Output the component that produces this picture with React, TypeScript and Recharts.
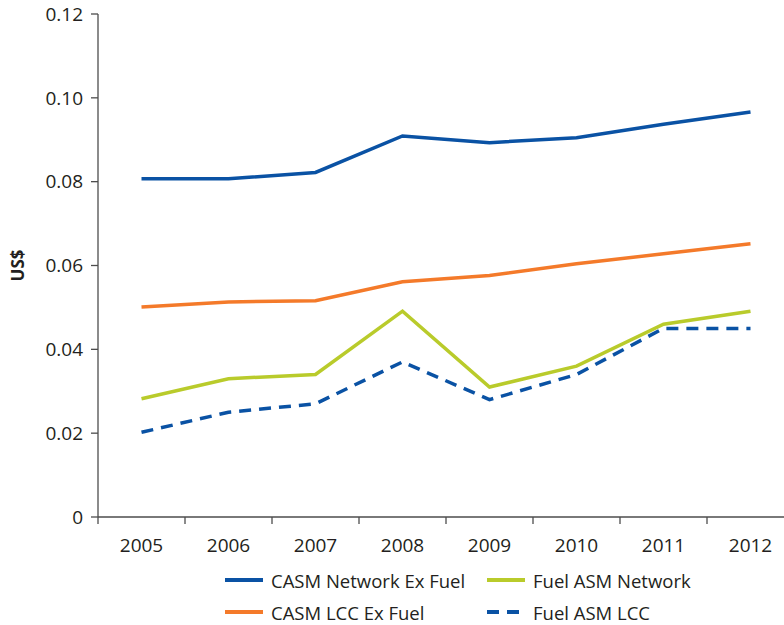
import { LineChart, Line, XAxis, YAxis, Legend, Label } from "recharts";

const years = ["2005", "2006", "2007", "2008", "2009", "2010", "2011", "2012"];
const casmNetwork = [0.0807, 0.0807, 0.0822, 0.0909, 0.0893, 0.0905, 0.0937, 0.0966];
const casmLcc = [0.0501, 0.0513, 0.0516, 0.0561, 0.0576, 0.0604, 0.0628, 0.0652];
const fuelNetwork = [0.0282, 0.033, 0.034, 0.0491, 0.031, 0.036, 0.046, 0.0491];
const fuelLcc = [0.0202, 0.025, 0.027, 0.037, 0.028, 0.034, 0.045, 0.045];
const yTicks = [0, 0.02, 0.04, 0.06, 0.08, 0.1, 0.12];

const BLUE = "#0a52a4";
const ORANGE = "#f47a2a";
const GREEN = "#b9cb2b";
const TEXT = "#231f20";
const AXIS = "#4d4d4d";
const FONT = "'Open Sans', sans-serif";

const CHART_W = 800;
const CHART_H = 625;
const Y_AXIS_W = 98;
const MARGIN = { top: 14, right: 6, left: 0, bottom: 8 };
const HALF_BAND = (CHART_W - Y_AXIS_W - MARGIN.left - MARGIN.right) / years.length / 2;

const data = years.map((year, i) => ({
  year,
  casmNetwork: casmNetwork[i],
  casmLcc: casmLcc[i],
  fuelNetwork: fuelNetwork[i],
  fuelLcc: fuelLcc[i],
}));

const legendItems = [
  { name: "CASM Network Ex Fuel", color: BLUE, dash: undefined },
  { name: "Fuel ASM Network", color: GREEN, dash: undefined },
  { name: "CASM LCC Ex Fuel", color: ORANGE, dash: undefined },
  { name: "Fuel ASM LCC", color: BLUE, dash: "12 8" },
];

function XTick(props: any) {
  const { x, y, payload, index } = props;
  return (
    <g>
      {index === 0 && <line x1={x - HALF_BAND} x2={x - HALF_BAND} y1={y - 8} y2={y - 1} stroke={AXIS} strokeWidth={1.3} />}
      <line x1={x + HALF_BAND} x2={x + HALF_BAND} y1={y - 8} y2={y - 1} stroke={AXIS} strokeWidth={1.3} />
      <text x={x} y={y + 27} textAnchor="middle" fill={TEXT} fontSize={19} fontFamily={FONT}>
        {payload.value}
      </text>
    </g>
  );
}

function formatY(v: number) {
  return v === 0 ? "0" : v.toFixed(2);
}

function renderLegend() {
  return (
    <div
      style={{
        display: "grid",
        gridTemplateColumns: "262px 230px",
        rowGap: 4,
        fontFamily: FONT,
        fontSize: 18.5,
        color: TEXT,
      }}
    >
      {legendItems.map((item) => (
        <div key={item.name} style={{ display: "flex", alignItems: "center", height: 28 }}>
          <svg width={38} height={6} style={{ marginRight: 8 }}>
            <line x1={0} x2={38} y1={3} y2={3} stroke={item.color} strokeWidth={4} strokeDasharray={item.dash} />
          </svg>
          <span>{item.name}</span>
        </div>
      ))}
    </div>
  );
}

export default function App() {
  return (
    <div style={{ position: "absolute", left: 0, top: 0, width: CHART_W, height: CHART_H, background: "#fff" }}>
      <LineChart width={CHART_W} height={CHART_H} data={data} margin={MARGIN}>
        <XAxis
          dataKey="year"
          tick={<XTick />}
          tickLine={false}
          axisLine={{ stroke: AXIS, strokeWidth: 1.3 }}
          interval={0}
          height={40}
          padding={{ left: HALF_BAND, right: HALF_BAND }}
        />
        <YAxis
          domain={[0, 0.12]}
          ticks={yTicks}
          tickFormatter={formatY}
          width={Y_AXIS_W}
          tickSize={7}
          tickMargin={8}
          tick={{ fill: TEXT, fontSize: 19, fontFamily: FONT }}
          tickLine={{ stroke: AXIS, strokeWidth: 1.3 }}
          axisLine={{ stroke: AXIS, strokeWidth: 1.3 }}
        >
          <Label
            value="US$"
            angle={-90}
            position="insideLeft"
            offset={18}
            style={{ fill: TEXT, fontSize: 17, fontWeight: 700, fontFamily: FONT, textAnchor: "middle" }}
          />
        </YAxis>
        <Legend
          content={renderLegend}
          wrapperStyle={{ left: 225, top: 566, width: 540 }}
        />
        <Line dataKey="casmNetwork" stroke={BLUE} strokeWidth={3.5} dot={false} isAnimationActive={false} />
        <Line dataKey="casmLcc" stroke={ORANGE} strokeWidth={3.5} dot={false} isAnimationActive={false} />
        <Line dataKey="fuelNetwork" stroke={GREEN} strokeWidth={3.5} dot={false} isAnimationActive={false} />
        <Line dataKey="fuelLcc" stroke={BLUE} strokeWidth={3.5} strokeDasharray="12 8" dot={false} isAnimationActive={false} />
      </LineChart>
    </div>
  );
}
